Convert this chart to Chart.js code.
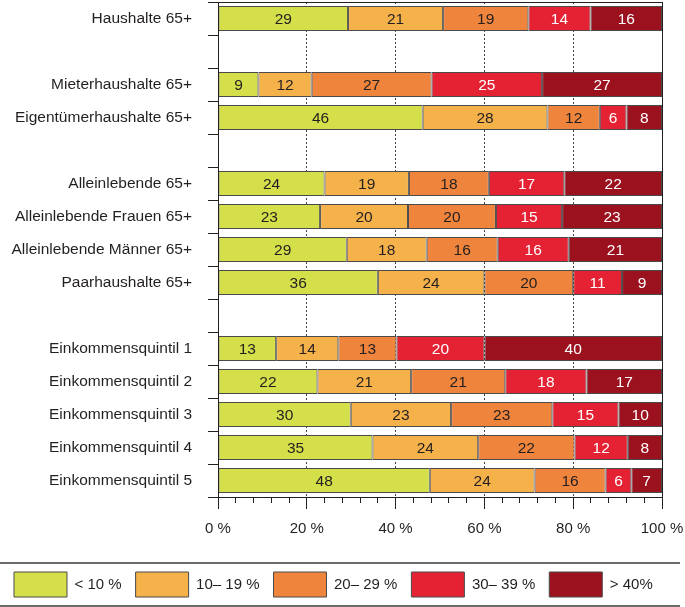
<!DOCTYPE html>
<html>
<head>
<meta charset="utf-8">
<script src="https://cdn.jsdelivr.net/npm/chart.js@4"></script>
<style>
  body { margin: 0; background: #fff; }
  #box { width: 685px; height: 607px; }
</style>
</head>
<body>
<div id="box"><canvas id="graph"></canvas></div>
<script>
// rows, '' = empty gap row
const categories = [
    "Haushalte 65+", "",
    "Mieterhaushalte 65+", "Eigentümerhaushalte 65+", "",
    "Alleinlebende 65+", "Alleinlebende Frauen 65+", "Alleinlebende Männer 65+", "Paarhaushalte 65+", "",
    "Einkommensquintil 1", "Einkommensquintil 2", "Einkommensquintil 3", "Einkommensquintil 4", "Einkommensquintil 5"
];
const legendLabels = ["< 10 %", "10– 19 %", "20– 29 %", "30– 39 %", "> 40%"];

const under10   = [29.3, null, 9.1, 46.1, null, 24, 23.0, 29, 36, null, 13.1, 22.4, 29.9, 34.8, 47.7];
const from10    = [21.4, null, 12.0, 28.1, null, 19, 19.8, 18, 24, null, 14.0, 21.1, 22.6, 23.8, 23.6];
const from20    = [19.2, null, 27.0, 11.8, null, 18, 19.8, 16, 20, null, 13.1, 21.2, 22.8, 21.7, 16.0];
const from30    = [14.0, null, 24.9, 6.0, null, 17, 14.9, 16, 11, null, 19.8, 18.3, 14.9, 12.0, 5.8];
const over40    = [16.1, null, 27.0, 8.0, null, 22, 22.5, 21, 9, null, 40.0, 17.0, 9.8, 7.7, 6.9];

const xTicks = [0, 20, 40, 60, 80, 100];

const colors = ["#d4df4a", "#f5b24b", "#ef843d", "#e42234", "#9c111e"];
const textColors = ["#231f20", "#231f20", "#231f20", "#ffffff", "#ffffff"];
const dark = "#231f20";
const font = "'Liberation Sans', Arial, sans-serif";
const fs = 15.5;

const graph = document.getElementById('graph');

// numbers inside the bars
const barLabels = {
    id: 'barLabels',
    afterDatasetsDraw(chart) {
        const ctx = chart.ctx;
        ctx.save();
        ctx.font = fs + "px " + font;
        ctx.textAlign = "center";
        ctx.textBaseline = "middle";
        chart.data.datasets.forEach((ds, i) => {
            const meta = chart.getDatasetMeta(i);
            meta.data.forEach((bar, j) => {
                const v = ds.data[j];
                if (v == null) return;
                ctx.fillStyle = textColors[i];
                ctx.fillText(Math.round(v), (bar.x + bar.base) / 2, bar.y + 1);
            });
        });
        ctx.restore();
    }
};

// frame round the plot and lines round the legend
const frame = {
    id: 'frame',
    afterDraw(chart) {
        const ctx = chart.ctx;
        const a = chart.chartArea;
        ctx.save();
        ctx.strokeStyle = dark;
        ctx.lineWidth = 1;
        ctx.strokeRect(Math.round(a.left) + 0.5, Math.round(a.top) + 0.5,
            Math.round(a.right - a.left), Math.round(a.bottom - a.top));
        const lg = chart.legend;
        ctx.strokeStyle = "#3a3a3a";
        ctx.lineWidth = 1.5;
        ctx.beginPath();
        ctx.moveTo(0, lg.top + 5);
        ctx.lineTo(680, lg.top + 5);
        ctx.moveTo(0, lg.bottom - 1);
        ctx.lineTo(680, lg.bottom - 1);
        ctx.stroke();
        ctx.restore();
    }
};

function makeSet(label, data, i) {
    return {
        label: label,
        data: data,
        backgroundColor: colors[i],
        borderColor: "#4a4a4a",
        borderWidth: 1,
        borderSkipped: false,
        barPercentage: 0.76,
        categoryPercentage: 1
    };
}

new Chart(graph, {
    type: "bar",
    data: {
        labels: categories,
        datasets: [
            makeSet(legendLabels[0], under10, 0),
            makeSet(legendLabels[1], from10, 1),
            makeSet(legendLabels[2], from20, 2),
            makeSet(legendLabels[3], from30, 3),
            makeSet(legendLabels[4], over40, 4)
        ]
    },
    options: {
        indexAxis: 'y',
        responsive: true,
        maintainAspectRatio: false,
        animation: false,
        layout: { padding: { left: 0, right: 0, top: 2, bottom: 0 } },
        scales: {
            y: {
                stacked: true,
                grid: { drawOnChartArea: false, tickLength: 10, tickColor: dark, offset: true },
                border: { color: dark },
                ticks: { color: dark, font: { family: font, size: fs }, padding: 16, autoSkip: false },
                afterFit(scale) {
                    scale.width = 218;
                    scale.paddingTop = 0;
                    scale.paddingBottom = 0;
                }
            },
            x: {
                stacked: true,
                min: 0,
                max: 100,
                weight: 1,
                afterBuildTicks(scale) {
                    scale.ticks = xTicks.map(v => ({ value: v }));
                },
                ticks: {
                    color: dark,
                    font: { family: font, size: 15 },
                    padding: 11,
                    maxRotation: 0,
                    callback: v => v + " %"
                },
                grid: {
                    color: c => (c.tick && c.tick.value > 0 && c.tick.value < 100) ? "#444" : "rgba(0,0,0,0)",
                    tickLength: 12,
                    tickColor: dark
                },
                border: { color: dark, dash: [2, 2] },
                afterFit(scale) {
                    scale.height = 61;
                    scale.paddingLeft = 0;
                    scale.paddingRight = 23;
                }
            },
            xMinor: {
                type: 'linear',
                position: 'bottom',
                axis: 'x',
                min: 0,
                max: 100,
                weight: 0,
                ticks: { display: false, stepSize: 4 },
                grid: { drawOnChartArea: false, tickLength: 6, tickColor: dark },
                border: { display: false },
                afterFit(scale) {
                    scale.height = 0;
                    scale.paddingLeft = 0;
                    scale.paddingRight = 23;
                }
            }
        },
        plugins: {
            legend: {
                position: 'bottom',
                align: 'start',
                labels: {
                    boxWidth: 53,
                    boxHeight: 25,
                    padding: 14,
                    color: dark,
                    font: { family: font, size: 15 }
                }
            },
            tooltip: { enabled: false }
        }
    },
    plugins: [barLabels, frame]
});
</script>
</body>
</html>
